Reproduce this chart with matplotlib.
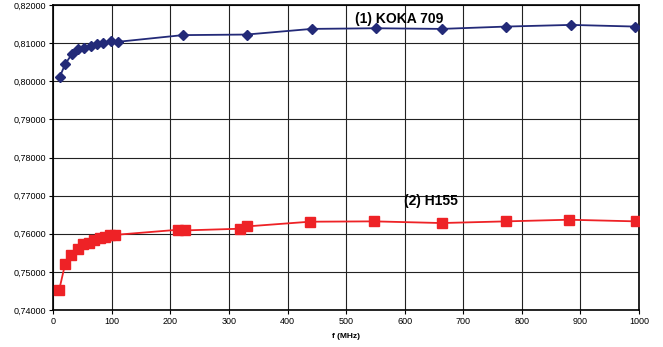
"""
Permittivity-like ratio vs frequency for two samples
"""

import matplotlib.pyplot as plt
import matplotlib.ticker as mticker

# (1) KOKA 709
freq_koka = [11, 20, 32, 42, 53, 64, 74, 85, 98, 110, 221, 330, 441, 551, 663, 773, 884, 994]
val_koka = [0.80112, 0.80442, 0.80720, 0.80851, 0.80877, 0.80920, 0.80990, 0.81008,
            0.81050, 0.81034, 0.81210, 0.81225, 0.81373, 0.81390, 0.81373, 0.81434,
            0.81478, 0.81434]

# (2) H155
freq_h155 = [10, 20, 31, 42, 51, 61, 70, 80, 88, 97, 106, 213, 225, 319, 331, 438,
             548, 663, 773, 880, 995]
val_h155 = [0.74524, 0.75196, 0.75440, 0.75589, 0.75720, 0.75762, 0.75832, 0.75877,
            0.75920, 0.75963, 0.75971, 0.76105, 0.76088, 0.76132, 0.76193, 0.76316,
            0.76325, 0.76281, 0.76325, 0.76368, 0.76325]

x_ticks = list(range(0, 1001, 100))
y_ticks = [0.74, 0.75, 0.76, 0.77, 0.78, 0.79, 0.80, 0.81, 0.82]

plt.rcParams['font.family'] = ['Liberation Sans', 'DejaVu Sans']

fig = plt.figure(figsize=(6.63, 3.47), dpi=100)
ax = fig.add_axes([0.0804, 0.1066, 0.8834, 0.879])

ax.plot(freq_koka, val_koka, color='#232a78', marker='D', markersize=5,
        linewidth=1.3, zorder=3)
ax.plot(freq_h155, val_h155, color='#ee2226', marker='s', markersize=6.5,
        linewidth=1.3, zorder=3)

ax.set_xlim(0, 1000)
ax.set_ylim(0.74, 0.82)
ax.set_xticks(x_ticks)
ax.set_yticks(y_ticks)
ax.yaxis.set_major_formatter(
    mticker.FuncFormatter(lambda v, pos: ('%.5f' % v).replace('.', ',')))
ax.tick_params(labelsize=6.5, length=3, width=0.8, color='black', pad=2)
ax.grid(True, color='#222222', linewidth=0.8)
ax.set_axisbelow(True)
for sp in ax.spines.values():
  sp.set_linewidth(1.2)
  sp.set_color('black')

ax.set_xlabel('f (MHz)', fontsize=6, fontweight='bold', labelpad=5)

ax.text(515, 0.8164, '(1) KOKA 709', fontsize=10, fontweight='bold',
        va='center', ha='left')
ax.text(598, 0.7685, '(2) H155', fontsize=10, fontweight='bold',
        va='center', ha='left')

plt.savefig('out.png', dpi=100)
